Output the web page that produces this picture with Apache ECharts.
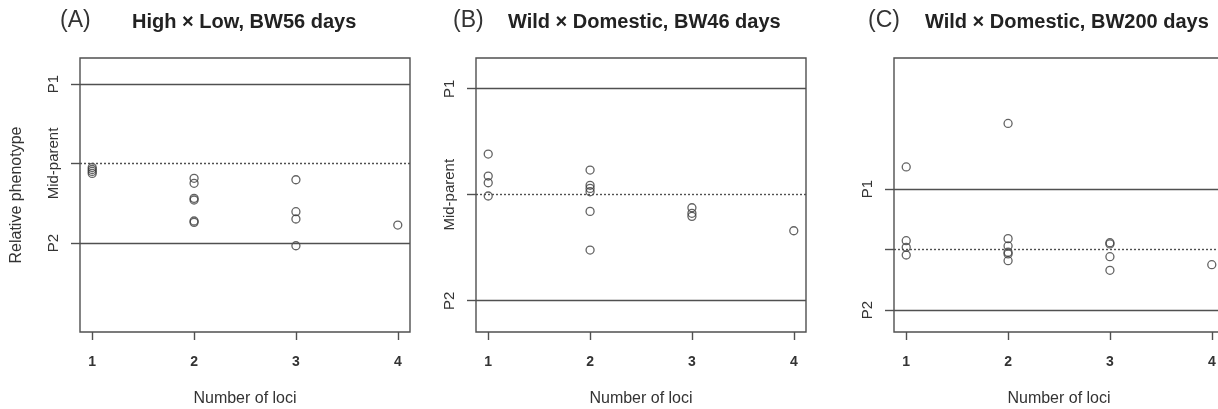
<!DOCTYPE html>
<html>
<head>
<meta charset="utf-8">
<script src="https://cdn.jsdelivr.net/npm/echarts@6/dist/echarts.min.js"></script>
<style>
html,body{margin:0;padding:0;background:#fff;}
#c{width:1218px;height:409px;}
</style>
</head>
<body>
<div id="c"></div>
<script>
// ---- data (relative phenotype: P1 = 1, Mid-parent = 0, P2 = -1) ----
const xTicks = [1, 2, 3, 4];
const yTickValues = [-1, 0, 1];
const yTickNames = { '-1': 'P2', '0': 'Mid-parent', '1': 'P1' };
const panelLetters = ['(A)', '(B)', '(C)'];
const panelTitles = ['High × Low, BW56 days', 'Wild × Domestic, BW46 days', 'Wild × Domestic, BW200 days'];

const lociA = [1, 1, 1, 1, 2, 2, 2, 2, 2, 2, 3, 3, 3, 3, 4];
const phenA = [-0.05, -0.075, -0.10, -0.125, -0.186, -0.249, -0.438, -0.459, -0.723, -0.74, -0.204, -0.606, -0.698, -1.034, -0.774];

const lociB = [1, 1, 1, 1, 2, 2, 2, 2, 2, 2, 3, 3, 3, 4];
const phenB = [0.384, 0.176, 0.113, -0.012, 0.233, 0.089, 0.06, 0.028, -0.157, -0.522, -0.123, -0.175, -0.204, -0.34];

const lociC = [1, 1, 1, 1, 2, 2, 2, 2, 2, 2, 3, 3, 3, 3, 4];
const phenC = [1.364, 0.145, 0.036, -0.091, 2.083, 0.179, 0.058, -0.046, -0.074, -0.185, 0.112, 0.091, -0.119, -0.344, -0.251];

const yRanges = [[-2.119, 1.327], [-1.295, 1.29], [-1.364, 3.165]];
const xRange = [0.88, 4.12];
// C panel shows no Mid-parent tick label
const yLabelValues = [[-1, 0, 1], [-1, 0, 1], [-1, 1]];

const lociAll = [lociA, lociB, lociC];
const phenAll = [phenA, phenB, phenC];

// ---- layout ----
const FONT = '"Liberation Sans", Arial, Helvetica, sans-serif';
const INK = '#505050';
const TXT = '#333';
const gridLefts = [80, 476, 894];
const letterLefts = [60, 453, 868];
const titleLefts = [132, 508, 925];

const grids = [], xAxes = [], yAxes = [], series = [], titles = [];
for (let i = 0; i < 3; i++) {
  grids.push({
    left: gridLefts[i], top: 58, width: 330, height: 274,
    outerBoundsMode: 'none', containLabel: false,
    show: true, borderColor: INK, borderWidth: 1.4, backgroundColor: 'transparent'
  });
  xAxes.push({
    type: 'value', gridIndex: i, min: xRange[0], max: xRange[1],
    name: 'Number of loci', nameLocation: 'middle', nameGap: 59,
    nameTextStyle: { fontFamily: FONT, fontSize: 16, color: TXT },
    axisLine: { show: false, onZero: false },
    splitLine: { show: false },
    axisTick: { show: true, inside: false, length: 8, customValues: xTicks, lineStyle: { color: INK, width: 1.4 } },
    axisLabel: { customValues: xTicks, margin: 23, fontFamily: FONT, fontSize: 14, color: TXT, fontWeight: 'bold' }
  });
  yAxes.push({
    type: 'value', gridIndex: i, min: yRanges[i][0], max: yRanges[i][1],
    name: i === 0 ? 'Relative phenotype' : '', nameLocation: 'middle', nameGap: 55, nameRotate: 90,
    nameTextStyle: { fontFamily: FONT, fontSize: 16, color: TXT },
    axisLine: { show: false, onZero: false },
    splitLine: { show: false },
    axisTick: { show: true, inside: false, length: 9, customValues: yTickValues, lineStyle: { color: INK, width: 1.4 } },
    axisLabel: {
      customValues: yLabelValues[i], rotate: 90, margin: 19, fontFamily: FONT, fontSize: 15, color: TXT,
      formatter: v => yTickNames[String(Math.round(v))]
    }
  });
  const pts = lociAll[i].map((x, k) => [x, phenAll[i][k]]);
  series.push({
    type: 'scatter', xAxisIndex: i, yAxisIndex: i, data: pts,
    symbol: 'circle', symbolSize: 8,
    itemStyle: { color: 'rgba(0,0,0,0)', borderColor: '#3c3c3c', borderWidth: 1.3 },
    silent: true,
    markLine: {
      silent: true, symbol: 'none', label: { show: false },
      lineStyle: { color: INK, width: 1.4, type: 'solid' },
      data: [
        { yAxis: 1 },
        { yAxis: -1 },
        { yAxis: 0, lineStyle: { type: [2, 2], color: INK, width: 1.4 } }
      ]
    }
  });
  titles.push({ text: panelLetters[i], left: letterLefts[i], top: 9, padding: 0,
    textStyle: { fontFamily: FONT, fontSize: 23, fontWeight: 'normal', color: TXT } });
  titles.push({ text: panelTitles[i], left: titleLefts[i], top: 12, padding: 0,
    textStyle: { fontFamily: FONT, fontSize: 20, fontWeight: 'bold', color: '#222' } });
}

const chart = echarts.init(document.getElementById('c'), null, { renderer: 'canvas' });
chart.setOption({
  animation: false,
  backgroundColor: '#fff',
  title: titles,
  grid: grids,
  xAxis: xAxes,
  yAxis: yAxes,
  series: series
});
</script>
</body>
</html>
